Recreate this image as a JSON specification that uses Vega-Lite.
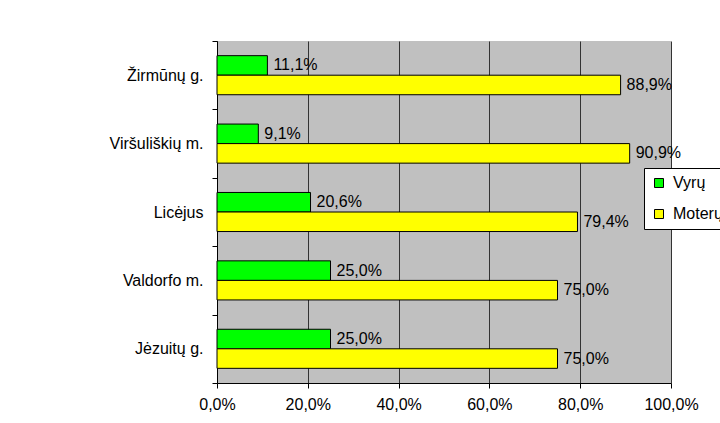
{
  "$schema": "https://vega.github.io/schema/vega-lite/v6.json",
  "autosize": {"type": "none"},
  "padding": {"left": 217, "top": 41, "right": 49, "bottom": 40},
  "width": 454,
  "height": 342,
  "background": "white",
  "config": {
    "locale": {"number": {"decimal": ",", "thousands": " ", "grouping": [3], "currency": ["", " €"]}},
    "view": {"fill": "#C0C0C0", "stroke": null},
    "font": "Liberation Sans",
    "axis": {"labelFont": "Liberation Sans", "labelFontSize": 16, "labelColor": "black", "domainColor": "black", "tickColor": "black", "tickSize": 5, "titleFontSize": 0}
  },
  "data": {
    "values": [
      {"school": "Žirmūnų g.", "gender": "Vyrų", "share": 0.111},
      {"school": "Žirmūnų g.", "gender": "Moterų", "share": 0.889},
      {"school": "Viršuliškių m.", "gender": "Vyrų", "share": 0.091},
      {"school": "Viršuliškių m.", "gender": "Moterų", "share": 0.909},
      {"school": "Licėjus", "gender": "Vyrų", "share": 0.206},
      {"school": "Licėjus", "gender": "Moterų", "share": 0.794},
      {"school": "Valdorfo m.", "gender": "Vyrų", "share": 0.25},
      {"school": "Valdorfo m.", "gender": "Moterų", "share": 0.75},
      {"school": "Jėzuitų g.", "gender": "Vyrų", "share": 0.25},
      {"school": "Jėzuitų g.", "gender": "Moterų", "share": 0.75}
    ]
  },
  "encoding": {
    "y": {
      "field": "school", "type": "nominal",
      "sort": ["Žirmūnų g.", "Viršuliškių m.", "Licėjus", "Valdorfo m.", "Jėzuitų g."],
      "scale": {"paddingInner": 0, "paddingOuter": 0},
      "axis": {"title": null, "tickBand": "extent", "labelPadding": 9, "domainWidth": 1, "labelAlign": "right"}
    },
    "yOffset": {
      "field": "gender", "type": "nominal",
      "sort": ["Vyrų", "Moterų"],
      "scale": {"paddingInner": 0, "paddingOuter": 0.75}
    },
    "x": {
      "field": "share", "type": "quantitative",
      "scale": {"domain": [0, 1], "nice": false},
      "axis": {"title": null, "format": ".1%", "values": [0, 0.2, 0.4, 0.6, 0.8, 1], "grid": true, "gridColor": "#333333", "gridOpacity": 1, "gridWidth": 1, "labelPadding": 8, "labelFlush": false}
    }
  },
  "layer": [
    {
      "mark": {"type": "bar", "stroke": "black", "strokeWidth": 1, "opacity": 1},
      "encoding": {
        "color": {
          "field": "gender", "type": "nominal",
          "sort": ["Vyrų", "Moterų"],
          "scale": {"domain": ["Vyrų", "Moterų"], "range": ["#00FF00", "#FFFF00"]},
          "legend": {
            "title": null, "orient": "none", "legendX": 427, "legendY": 127,
            "fillColor": "white", "strokeColor": "black", "padding": 7,
            "symbolType": "square", "symbolSize": 81, "symbolStrokeColor": "black", "symbolStrokeWidth": 1, "symbolOpacity": 1,
            "labelFontSize": 16, "labelFont": "Liberation Sans", "labelColor": "black", "labelOffset": 6,
            "rowPadding": 15, "cornerRadius": 0
          }
        }
      }
    },
    {
      "mark": {"type": "text", "align": "left", "baseline": "middle", "dx": 6, "fontSize": 16, "font": "Liberation Sans", "color": "black"},
      "encoding": {
        "text": {"field": "share", "type": "quantitative", "format": ".1%"}
      }
    }
  ]
}
